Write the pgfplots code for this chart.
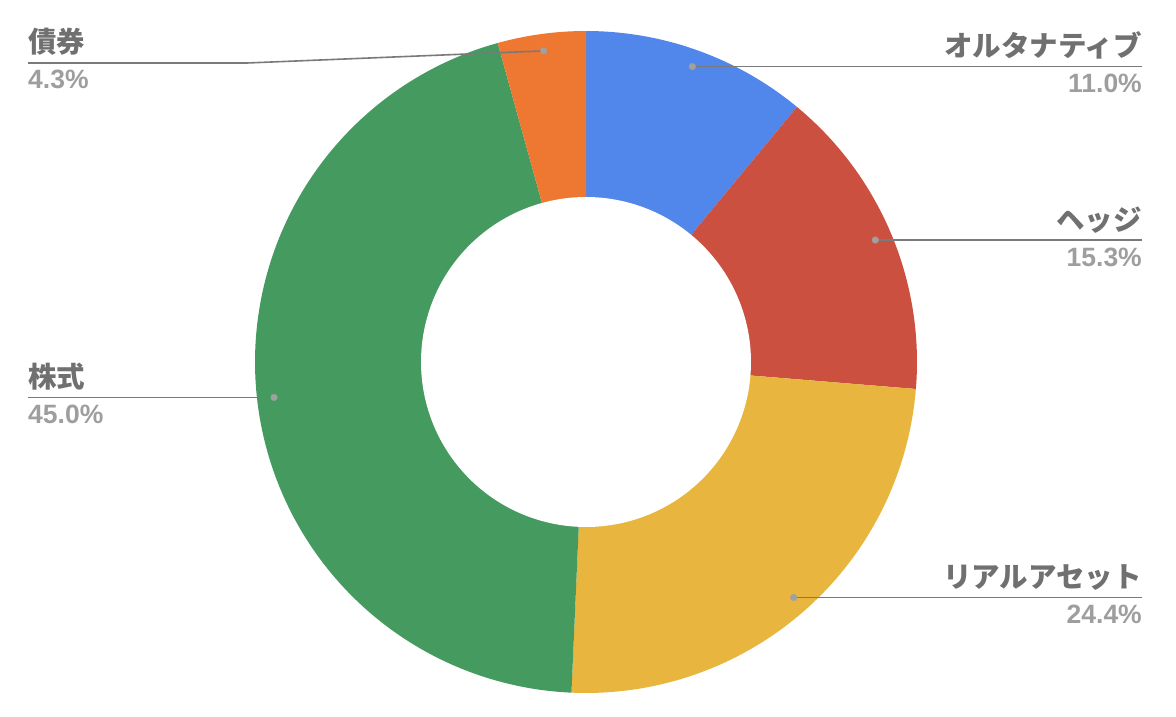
\documentclass[border=0pt]{standalone}
\usepackage{pgfplots}
\usepackage{pgfplotstable}
\pgfplotsset{compat=1.18}
\usepackage{fontspec}
\setmainfont{Liberation Sans}
\newfontfamily\jpfont{Noto Sans CJK JP}
\newfontfamily\pctfont{Liberation Sans}
\definecolor{cAlt}{HTML}{5186EA}
\definecolor{cHedge}{HTML}{CB5040}
\definecolor{cReal}{HTML}{E8B63E}
\definecolor{cStock}{HTML}{459A5F}
\definecolor{cBond}{HTML}{EE7731}
\definecolor{labgray}{HTML}{707070}
\definecolor{pctgray}{HTML}{9E9E9E}
\definecolor{linegray}{HTML}{7A7A7A}
\definecolor{dotgray}{HTML}{A0A0A0}

\pgfplotstableread{
name value
alt 11.0
hedge 15.3
real 24.4
stock 45.0
bond 4.3
}\piedata

\newcommand\lab{\fontsize{28.5}{31}\selectfont\jpfont\bfseries}
\newcommand\pct{\fontsize{26.5}{29}\selectfont\pctfont\bfseries}

\begin{document}
\begin{tikzpicture}
\pgfplotstablegetelem{0}{value}\of\piedata\edef\vA{\pgfplotsretval}
\pgfplotstablegetelem{1}{value}\of\piedata\edef\vB{\pgfplotsretval}
\pgfplotstablegetelem{2}{value}\of\piedata\edef\vC{\pgfplotsretval}
\pgfplotstablegetelem{3}{value}\of\piedata\edef\vD{\pgfplotsretval}
\pgfplotstablegetelem{4}{value}\of\piedata\edef\vE{\pgfplotsretval}
\pgfmathsetmacro\aO{90}
\pgfmathsetmacro\aA{\aO-3.6*\vA}
\pgfmathsetmacro\aB{\aA-3.6*\vB}
\pgfmathsetmacro\aC{\aB-3.6*\vC}
\pgfmathsetmacro\aD{\aC-3.6*\vD}
\pgfmathsetmacro\aE{\aD-3.6*\vE}
\def\cx{586}\def\cy{354}\def\R{331}\def\r{165}\def\rd{314}
\pgfmathsetmacro\mA{(\aO+\aA)/2}\pgfmathsetmacro\dAx{\cx+\rd*cos(\mA)}\pgfmathsetmacro\dAy{\cy+\rd*sin(\mA)}
\pgfmathsetmacro\mB{(\aA+\aB)/2}\pgfmathsetmacro\dBx{\cx+\rd*cos(\mB)}\pgfmathsetmacro\dBy{\cy+\rd*sin(\mB)}
\pgfmathsetmacro\mC{(\aB+\aC)/2}\pgfmathsetmacro\dCx{\cx+\rd*cos(\mC)}\pgfmathsetmacro\dCy{\cy+\rd*sin(\mC)}
\pgfmathsetmacro\mD{(\aC+\aD)/2}\pgfmathsetmacro\dDx{\cx+\rd*cos(\mD)}\pgfmathsetmacro\dDy{\cy+\rd*sin(\mD)}
\pgfmathsetmacro\mE{(\aD+\aE)/2}\pgfmathsetmacro\dEx{\cx+\rd*cos(\mE)}\pgfmathsetmacro\dEy{\cy+\rd*sin(\mE)}
\begin{axis}[
  scale only axis, width=1176pt, height=716pt,
  xmin=0, xmax=1176, ymin=0, ymax=716,
  hide axis, clip=false,
]
\path (rel axis cs:0,0) rectangle (rel axis cs:1,1);
\addplot[fill=cAlt, draw=none, domain=\aA:\aO, samples=80, variable=\t]
  ({\cx+\R*cos(\t)},{\cy+\R*sin(\t)}) -- (axis cs:\cx,\cy) -- cycle;
\addplot[fill=cHedge, draw=none, domain=\aB:\aA, samples=80, variable=\t]
  ({\cx+\R*cos(\t)},{\cy+\R*sin(\t)}) -- (axis cs:\cx,\cy) -- cycle;
\addplot[fill=cReal, draw=none, domain=\aC:\aB, samples=100, variable=\t]
  ({\cx+\R*cos(\t)},{\cy+\R*sin(\t)}) -- (axis cs:\cx,\cy) -- cycle;
\addplot[fill=cStock, draw=none, domain=\aD:\aC, samples=160, variable=\t]
  ({\cx+\R*cos(\t)},{\cy+\R*sin(\t)}) -- (axis cs:\cx,\cy) -- cycle;
\addplot[fill=cBond, draw=none, domain=\aE:\aD, samples=40, variable=\t]
  ({\cx+\R*cos(\t)},{\cy+\R*sin(\t)}) -- (axis cs:\cx,\cy) -- cycle;
\addplot[fill=white, draw=none, domain=0:360, samples=200, variable=\t]
  ({\cx+\r*cos(\t)},{\cy+\r*sin(\t)}) -- cycle;
% leader lines
\addplot[linegray, line width=1.6pt] coordinates {(\dAx,\dAy) (1142,\dAy)};
\addplot[linegray, line width=1.6pt] coordinates {(\dBx,\dBy) (1142,\dBy)};
\addplot[linegray, line width=1.6pt] coordinates {(\dCx,\dCy) (1142,\dCy)};
\addplot[linegray, line width=1.6pt] coordinates {(\dDx,\dDy) (28,\dDy)};
\addplot[linegray, line width=1.6pt] coordinates {(\dEx,\dEy) (247,653) (28,653)};
\addplot[only marks, mark=*, mark size=3.3pt, dotgray, mark options={draw=none, fill=dotgray}]
  coordinates {(\dAx,\dAy) (\dBx,\dBy) (\dCx,\dCy) (\dDx,\dDy) (\dEx,\dEy)};
% labels
\node[anchor=base east, inner sep=0, text=labgray, font=\lab, yshift=10pt] at (axis cs:1142,\dAy) {オルタナティブ};
\node[anchor=base east, inner sep=0, text=pctgray, font=\pct, yshift=-26pt] at (axis cs:1142,\dAy) {11.0\%};
\node[anchor=base east, inner sep=0, text=labgray, font=\lab, yshift=10pt] at (axis cs:1142,\dBy) {ヘッジ};
\node[anchor=base east, inner sep=0, text=pctgray, font=\pct, yshift=-26pt] at (axis cs:1142,\dBy) {15.3\%};
\node[anchor=base east, inner sep=0, text=labgray, font=\lab, yshift=10pt] at (axis cs:1142,\dCy) {リアルアセット};
\node[anchor=base east, inner sep=0, text=pctgray, font=\pct, yshift=-26pt] at (axis cs:1142,\dCy) {24.4\%};
\node[anchor=base west, inner sep=0, text=labgray, font=\lab, yshift=10pt] at (axis cs:28,\dDy) {株式};
\node[anchor=base west, inner sep=0, text=pctgray, font=\pct, yshift=-26pt] at (axis cs:28,\dDy) {45.0\%};
\node[anchor=base west, inner sep=0, text=labgray, font=\lab, yshift=10pt] at (axis cs:28,653) {債券};
\node[anchor=base west, inner sep=0, text=pctgray, font=\pct, yshift=-26pt] at (axis cs:28,653) {4.3\%};
\end{axis}
\end{tikzpicture}
\end{document}
